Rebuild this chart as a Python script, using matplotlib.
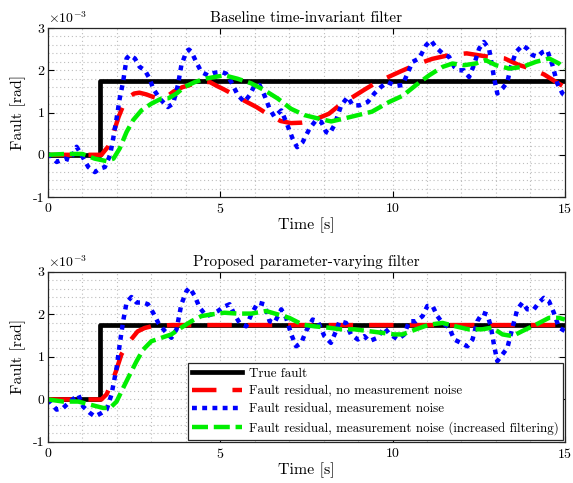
import numpy as np
import matplotlib
matplotlib.use("Agg")
import matplotlib.pyplot as plt

plt.rcParams['font.family'] = 'serif'
plt.rcParams['font.serif'] = ['cmr10']
plt.rcParams['mathtext.fontset'] = 'cm'
plt.rcParams['axes.formatter.use_mathtext'] = True

# true fault (step at 1.5 s), values in 1e-3 rad
t_true = [0, 1.5, 15]
f_true = [0, 1.75, 1.75]

# ---- baseline time-invariant filter ----
t_r1 = [0, 1.55, 1.75, 1.9, 2.05, 2.2, 2.35, 2.5, 2.65, 2.85, 3.05, 3.25, 3.45, 3.65, 3.9, 4.2,
        4.5, 4.7, 4.9, 5.1, 5.4, 5.7, 6.05, 6.4, 6.75, 7.05, 7.35, 7.6, 7.85, 8.15, 8.5, 8.85,
        9.2, 9.55, 9.9, 10.25, 10.7, 11.15, 11.65, 12.15, 12.7, 13.25, 13.65, 14.0, 14.4, 14.75, 15.0]
r1 = [0, 0, 0.2, 0.52, 0.9, 1.2, 1.37, 1.45, 1.47, 1.43, 1.37, 1.32, 1.38, 1.5, 1.6, 1.67,
      1.73, 1.72, 1.63, 1.55, 1.42, 1.28, 1.13, 0.95, 0.8, 0.75, 0.76, 0.8, 0.87, 0.97, 1.2, 1.37,
      1.55, 1.72, 1.85, 1.98, 2.14, 2.27, 2.36, 2.4, 2.33, 2.28, 2.13, 2.04, 1.9, 1.72, 1.6]

t_b1 = [0, 0.25, 0.5, 0.64, 0.83, 0.97, 1.17, 1.36, 1.5, 1.65, 1.8, 1.89, 1.99, 2.08, 2.18, 2.28,
        2.37, 2.52, 2.66, 2.81, 2.95, 3.05, 3.24, 3.48, 3.63, 3.77, 3.87, 4.02, 4.09, 4.16, 4.3,
        4.45, 4.64, 4.83, 5.03, 5.17, 5.32, 5.51, 5.7, 5.85, 6.0, 6.14, 6.28, 6.43, 6.57, 6.77,
        6.91, 7.1, 7.23, 7.39, 7.59, 7.78, 7.93, 8.07, 8.17, 8.31, 8.51, 8.7, 8.84, 9.04, 9.28,
        9.47, 9.67, 9.86, 10.1, 10.29, 10.43, 10.58, 10.77, 10.97, 11.11, 11.25, 11.45, 11.64,
        11.79, 11.93, 12.07, 12.22, 12.36, 12.51, 12.65, 12.8, 12.95, 13.04, 13.19, 13.33, 13.43,
        13.58, 13.77, 13.91, 14.06, 14.2, 14.35, 14.49, 14.64, 14.78, 14.93, 15.0]
b1 = [0.03, -0.17, -0.09, -0.13, 0.19, 0, -0.29, -0.41, -0.33, -0.29, -0.01, 0.38, 0.86, 1.33, 1.73, 2.28,
      2.36, 2.28, 2.08, 2.0, 1.8, 1.57, 1.33, 1.13, 1.21, 1.65, 2.12, 2.45, 2.49, 2.44, 2.2,
      1.96, 1.88, 1.94, 1.96, 1.92, 1.72, 1.41, 1.25, 1.41, 1.65, 1.65, 1.41, 1.09, 0.9, 1.05,
      0.78, 0.38, 0.18, 0.30, 0.62, 0.82, 0.78, 0.54, 0.5, 0.7, 1.17, 1.37, 1.17, 1.17, 1.25,
      1.45, 1.61, 1.72, 1.63, 1.65, 1.92, 2.2, 2.28, 2.59, 2.71, 2.55, 2.4, 2.32,
      2.08, 2.0, 2.0, 1.84, 2.12, 2.51, 2.67, 2.51, 1.8, 1.45, 1.57, 1.72, 2.08,
      2.43, 2.59, 2.51, 2.36, 2.32, 2.43, 2.47, 2.12, 1.69, 1.45, 1.41]

t_g1 = [0, 0.5, 1.0, 1.35, 1.7, 1.9, 2.08, 2.28, 2.47, 2.71, 3.0, 3.29, 3.5, 3.73, 3.97, 4.26,
        4.55, 4.83, 5.12, 5.5, 5.9, 6.28, 6.67, 7.05, 7.44, 7.83, 8.22, 8.6, 9.0, 9.4, 9.9,
        10.3, 10.68, 11.06, 11.45, 11.74, 12.07, 12.41, 12.7, 13.0, 13.38, 13.77, 14.16, 14.54, 14.83, 15.0]
g1 = [0, 0.02, 0.02, -0.09, -0.15, -0.09, 0.15, 0.54, 0.82, 1.05, 1.21, 1.33, 1.34, 1.45, 1.61, 1.72,
      1.8, 1.84, 1.88, 1.8, 1.69, 1.53, 1.33, 1.09, 0.94, 0.86, 0.79, 0.86, 0.94, 1.02, 1.25,
      1.4, 1.65, 1.88, 2.08, 2.16, 2.12, 2.16, 2.24, 2.12, 2.04, 2.08, 2.2, 2.28, 2.16, 2.04]

# ---- proposed parameter-varying filter ----
t_r2 = [0, 1.55, 1.7, 1.84, 1.97, 2.13, 2.27, 2.4, 2.6, 2.8, 3.0, 3.3, 3.6, 4.0, 15.0]
r2 = [0, 0, 0.12, 0.38, 0.66, 1.06, 1.25, 1.4, 1.6, 1.68, 1.72, 1.74, 1.75, 1.75, 1.75]

t_b2 = [0, 0.25, 0.44, 0.64, 0.88, 1.02, 1.22, 1.36, 1.55, 1.7, 1.84, 1.99, 2.08, 2.18, 2.28, 2.42,
        2.57, 2.76, 2.9, 3.05, 3.2, 3.39, 3.58, 3.73, 3.87, 4.02, 4.11, 4.26, 4.4, 4.6, 4.74,
        4.93, 5.1, 5.27, 5.41, 5.56, 5.75, 5.9, 6.09, 6.28, 6.43, 6.57, 6.77, 6.91, 7.06, 7.2,
        7.35, 7.49, 7.68, 7.83, 8.02, 8.21, 8.36, 8.46, 8.65, 8.79, 8.99, 9.18, 9.32, 9.56, 9.76,
        9.9, 10.15, 10.34, 10.48, 10.68, 10.87, 11.01, 11.16, 11.3, 11.45, 11.64, 11.79, 11.98,
        12.17, 12.32, 12.46, 12.61, 12.75, 12.85, 12.95, 13.04, 13.19, 13.33, 13.48, 13.62,
        13.77, 13.91, 14.1, 14.25, 14.39, 14.54, 14.68, 14.83, 15.0]
b2 = [0, -0.24, -0.2, -0.05, 0.11, -0.17, -0.32, -0.4, -0.32, -0.24, 0.11, 0.74, 1.29, 1.84, 2.28, 2.41,
      2.28, 2.28, 2.24, 2.04, 1.8, 1.61, 1.45, 1.65, 2.24, 2.55, 2.63, 2.43, 2.16, 1.96, 2.0,
      2.08, 2.18, 2.24, 2.0, 1.8, 1.72, 2.0, 2.28, 2.24, 1.84, 1.8, 2.12, 1.92, 1.53, 1.25,
      1.33, 1.61, 1.88, 1.84, 1.49, 1.33, 1.61, 1.84, 1.8, 1.53, 1.41, 1.49, 1.37, 1.45, 1.69,
      1.55, 1.41, 1.53, 1.84, 1.84, 1.96, 2.2, 2.2, 1.96, 1.8, 1.69, 1.41, 1.33,
      1.25, 1.41, 1.84, 2.04, 2.0, 1.72, 1.25, 0.9, 1.06, 1.21, 1.69, 2.12,
      2.28, 2.12, 2.12, 2.28, 2.39, 2.31, 2.04, 1.69, 1.61]

t_g2 = [0, 0.44, 0.88, 1.26, 1.6, 1.8, 1.99, 2.18, 2.37, 2.57, 2.76, 3.0, 3.29, 3.58, 3.87, 4.16,
        4.45, 4.74, 5.12, 5.5, 5.9, 6.33, 6.67, 7.0, 7.39, 7.73, 8.12, 8.5, 8.89, 9.28, 9.67,
        10.05, 10.29, 10.68, 11.06, 11.45, 11.83, 12.2, 12.6, 12.89, 13.19, 13.48, 13.77, 14.16,
        14.54, 14.83, 15.0]
g2 = [0, -0.05, -0.05, -0.13, -0.2, -0.2, -0.05, 0.27, 0.58, 0.9, 1.17, 1.37, 1.45, 1.53, 1.69, 1.84,
      1.96, 2.0, 2.04, 2.02, 2.02, 2.08, 2.0, 1.92, 1.76, 1.72, 1.69, 1.65, 1.65, 1.61, 1.57,
      1.53, 1.53, 1.65, 1.76, 1.8, 1.72, 1.65, 1.65, 1.69, 1.53, 1.49, 1.61, 1.76,
      1.92, 1.92, 1.88]

x_ticks = [0, 5, 10, 15]
y_ticks = [-1, 0, 1, 2, 3]
y_ticklabels = ['-1', '0', '1', '2', '3']
titles = ["Baseline time-invariant filter", "Proposed parameter-varying filter"]
labels = ["True fault",
          "Fault residual, no measurement noise",
          "Fault residual, measurement noise",
          "Fault residual, measurement noise (increased filtering)"]

fig = plt.figure(figsize=(5.73, 4.83), dpi=100)
ax1 = fig.add_axes([0.0838, 0.592, 0.9020, 0.350])
ax2 = fig.add_axes([0.0838, 0.085, 0.9020, 0.352])

data = [(ax1, t_r1, r1, t_b1, b1, t_g1, g1), (ax2, t_r2, r2, t_b2, b2, t_g2, g2)]
for i, (ax, tr, r, tb, b, tg, g) in enumerate(data):
    ax.step(t_true, f_true, where='post', color='k', lw=3.4, label=labels[0])
    ax.plot(tr, r, color='r', lw=3.2, dashes=(5.5, 3.6), label=labels[1])
    ax.plot(tb, b, color='b', lw=3.2, dashes=(1.1, 1.2), label=labels[2])
    ax.plot(tg, g, color='#00ee00', lw=3.2, dashes=(3.6, 1.3), label=labels[3])

    ax.set_xlim(0, 15)
    ax.set_ylim(-1, 3)
    ax.set_xticks(x_ticks)
    ax.set_yticks(y_ticks)
    ax.set_yticklabels(y_ticklabels)
    ax.set_xticks(np.arange(0, 15.1, 1), minor=True)
    ax.set_yticks(np.arange(-1, 3.01, 0.2), minor=True)
    ax.grid(True, which='both', ls=(0, (1, 2.5)), color='#bdbdbd', lw=0.8)
    ax.tick_params(which='both', direction='in', top=True, right=True, labelsize=10)
    ax.tick_params(which='minor', length=0)
    ax.tick_params(which='major', length=4)
    ax.tick_params(axis='y', pad=2.5)
    ax.set_axisbelow(True)
    for s in ax.spines.values():
        s.set_linewidth(0.9)
        s.set_color('#262626')
    ax.set_title(titles[i], fontsize=11, pad=4)
    ax.set_xlabel("Time [s]", fontsize=11.5, labelpad=1)
    ax.set_ylabel("Fault [rad]", fontsize=11.5, labelpad=5)
    ax.text(0.0, 1.012, r'$\times10^{-3}$', transform=ax.transAxes, fontsize=10,
            ha='left', va='bottom')

leg = ax2.legend(loc='lower right', fontsize=9.4, frameon=True, fancybox=False,
                 framealpha=1, edgecolor='#262626', handlelength=3.8, borderaxespad=0.15,
                 labelspacing=0.45, borderpad=0.35, handletextpad=0.5)
leg.get_frame().set_linewidth(0.9)

fig.savefig("out.png", dpi=100)
